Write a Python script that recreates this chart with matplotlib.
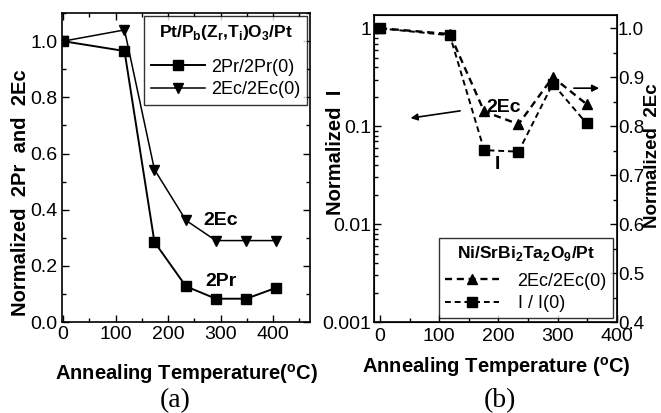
import numpy as np
import matplotlib
matplotlib.use("Agg")
import matplotlib.pyplot as plt
from matplotlib.ticker import MultipleLocator, LogLocator, NullFormatter

plt.rcParams['font.family'] = ['Liberation Sans', 'DejaVu Sans']
plt.rcParams['mathtext.fontset'] = 'custom'
plt.rcParams['mathtext.rm'] = 'Liberation Sans'
plt.rcParams['mathtext.bf'] = 'Liberation Sans:bold'

# --- panel (a) data: Pt/PZT/Pt ---
temp_pr = [0, 117, 174, 234, 291, 349, 406]
pr_norm = [1.0, 0.965, 0.285, 0.127, 0.083, 0.083, 0.122]
temp_ec = [0, 117, 174, 234, 291, 349, 406]
ec_norm = [1.0, 1.04, 0.543, 0.362, 0.29, 0.29, 0.29]

# --- panel (b) data: Ni/SBT/Pt ---
temp_b = [0, 118, 176, 234, 292, 349]
i_norm = [1.0, 0.85, 0.057, 0.055, 0.272, 0.107]
ec_b = [1.0, 0.988, 0.83, 0.804, 0.90, 0.845]

TS = 14    # tick label size
LS = 14.5  # axis label size

fig = plt.figure(figsize=(6.61, 4.13), dpi=100)

# ---------- (a) ----------
ax1 = fig.add_axes([0.0938, 0.2203, 0.375, 0.748])
ax1.plot(temp_pr, pr_norm, '-', color='black', lw=1.4, marker='s', ms=6.5,
         label='2Pr/2Pr(0)')
ax1.plot(temp_ec, ec_norm, '-', color='black', lw=1.1, marker='v', ms=7.5,
         label='2Ec/2Ec(0)')
ax1.set_xlim(-2, 470)
ax1.set_ylim(0, 1.1)
ax1.xaxis.set_major_locator(MultipleLocator(100))
ax1.xaxis.set_minor_locator(MultipleLocator(50))
ax1.set_yticks([0, 0.2, 0.4, 0.6, 0.8, 1.0])
ax1.set_yticklabels(['0.0', '0.2', '0.4', '0.6', '0.8', '1.0'])
ax1.yaxis.set_minor_locator(MultipleLocator(0.1))
ax1.tick_params(which='both', direction='in', top=True, right=True,
                labelsize=TS, width=1.0)
ax1.tick_params(which='major', length=5, pad=3)
ax1.tick_params(which='minor', length=3)
for s in ax1.spines.values():
    s.set_linewidth(1.2)
ax1.set_xlabel('Annealing Temperature($\\mathregular{^oC}$)', fontsize=LS,
               fontweight='bold')
ax1.set_ylabel('Normalized  2Pr  and  2Ec', fontsize=LS, fontweight='bold')
ax1.xaxis.set_label_coords(0.502, -0.13)
ax1.yaxis.set_label_coords(-0.129, 0.42)
ax1.text(300, 0.345, '2Ec', fontsize=14, fontweight='bold', ha='center')
ax1.text(300, 0.128, '2Pr', fontsize=14, fontweight='bold', ha='center')
leg1 = ax1.legend(loc='upper right', title='Pt/P$_\\mathregular{b}$(Z$_\\mathregular{r}$,T$_\\mathregular{i}$)O$_\\mathregular{3}$/Pt',
                  fontsize=13, frameon=True, fancybox=False, edgecolor='black',
                  handlelength=3.0, borderaxespad=0.15, borderpad=0.4,
                  labelspacing=0.3, handletextpad=0.3)
leg1.get_title().set_fontweight('bold')
leg1.get_title().set_fontsize(12.5)
leg1.get_frame().set_linewidth(1.0)
leg1._legend_box.sep = 12
fig.text(0.265, 0.03, '(a)', fontsize=20, family='Liberation Serif',
         ha='center', va='center')

# ---------- (b) ----------
ax2 = fig.add_axes([0.566, 0.2203, 0.367, 0.7434])
ax3 = ax2.twinx()
ax2.plot(temp_b, i_norm, '--', color='black', lw=1.4, dashes=(3, 2),
         marker='s', ms=6.5, label='I / I(0)')
ax3.plot(temp_b, ec_b, '--', color='black', lw=1.7, dashes=(3, 2),
         marker='^', ms=7.5, label='2Ec/2Ec(0)')
ax2.set_yscale('log')
ax2.set_xlim(-10, 400)
ax2.set_ylim(0.001, 1.37)
ax3.set_ylim(0.4, 1.027)
ax2.xaxis.set_major_locator(MultipleLocator(100))
ax2.xaxis.set_minor_locator(MultipleLocator(50))
ax2.yaxis.set_minor_locator(LogLocator(base=10, subs=np.arange(2, 10)))
ax2.yaxis.set_minor_formatter(NullFormatter())
ax2.set_yticks([0.001, 0.01, 0.1, 1])
ax2.set_yticklabels(['0.001', '0.01', '0.1', '1'])
ax3.set_yticks([0.4, 0.5, 0.6, 0.7, 0.8, 0.9, 1.0])
ax3.set_yticklabels(['0.4', '0.5', '0.6', '0.7', '0.8', '0.9', '1.0'])
ax3.yaxis.set_minor_locator(MultipleLocator(0.05))
ax2.tick_params(which='both', direction='in', labelsize=TS, width=1.0, pad=2)
ax2.tick_params(axis='x', pad=4)
ax3.tick_params(which='both', direction='in', labelsize=13.5, width=1.0, pad=1)
for a in (ax2, ax3):
    a.tick_params(which='major', length=5)
    a.tick_params(which='minor', length=3)
for s in ax2.spines.values():
    s.set_linewidth(1.2)
ax2.set_xlabel('Annealing Temperature ($\\mathregular{^oC}$)', fontsize=LS,
               fontweight='bold')
ax2.set_ylabel('Normalized  I', fontsize=LS, fontweight='bold')
ax3.set_ylabel('Normalized  2Ec', fontsize=13.5, fontweight='bold')
ax2.xaxis.set_label_coords(0.502, -0.109)
ax2.yaxis.set_label_coords(-0.121, 0.553)
ax3.yaxis.set_label_coords(1.114, 0.543)

ax2.text(180, 0.155, '2Ec', fontsize=14, fontweight='bold', ha='left',
         va='center')
ax2.text(199, 0.041, 'I', fontsize=14, fontweight='bold', ha='center',
         va='center')
ax2.annotate('', xy=(47, 0.12), xytext=(140, 0.145),
             arrowprops=dict(arrowstyle='-|>', color='black', lw=1.2,
                             mutation_scale=10))
ax2.annotate('', xy=(375, 0.245), xytext=(323, 0.245),
             arrowprops=dict(arrowstyle='-|>', color='black', lw=1.2,
                             mutation_scale=10))

h3, l3 = ax3.get_legend_handles_labels()
h2, l2 = ax2.get_legend_handles_labels()
leg2 = ax3.legend(h3 + h2, l3 + l2, loc='lower right',
                  title='Ni/SrBi$_\\mathregular{2}$Ta$_\\mathregular{2}$O$_\\mathregular{9}$/Pt',
                  fontsize=13, frameon=True, fancybox=False, edgecolor='black',
                  handlelength=3.0, borderaxespad=0.2, borderpad=0.35,
                  labelspacing=0.3, handletextpad=1.0)
leg2.get_title().set_fontweight('bold')
leg2.get_title().set_fontsize(12.5)
leg2.get_frame().set_linewidth(1.0)
leg2._legend_box.sep = 7
fig.text(0.757, 0.03, '(b)', fontsize=20, family='Liberation Serif',
         ha='center', va='center')

fig.savefig('out.png', dpi=100)
